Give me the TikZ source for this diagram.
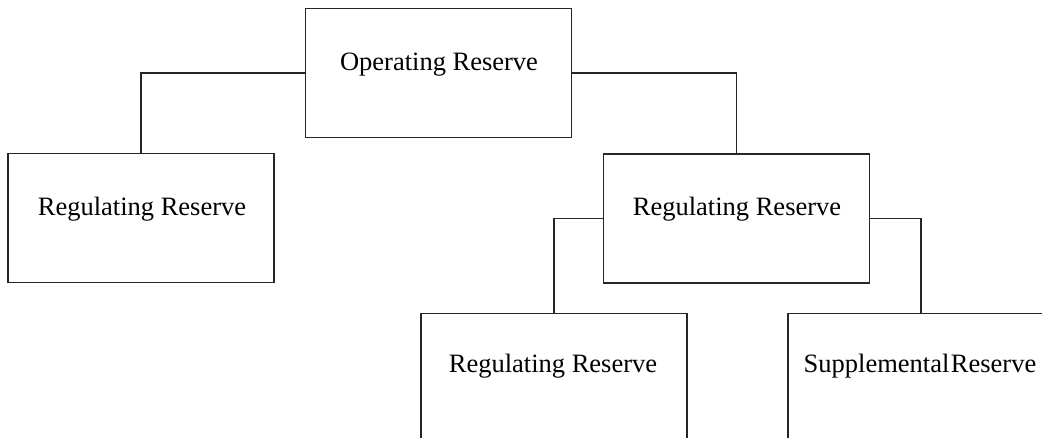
\documentclass[tikz,border=0pt]{standalone}
\usepackage{fontspec}
\setmainfont{Liberation Serif}
\begin{document}
\begin{tikzpicture}[x=1pt,y=-1pt,
  box/.style={draw=black!85, line width=1.2pt, rectangle, inner sep=0pt, minimum width=266pt, minimum height=129pt},
  lbl/.style={anchor=base, inner sep=0pt, font=\fontsize{26.5}{30}\selectfont},
  conn/.style={draw=black!85, line width=1.2pt}]
\useasboundingbox (0,0) rectangle (1042,438);
\clip (0,0) rectangle (1042,438);
\node[box] (top) at (438.5,73) {};
\node[box] (left) at (141,218) {};
\node[box] (mid) at (736.5,218.5) {};
\node[box] (bl) at (554,378) {};
\node[box] (br) at (921,378) {};
\node[lbl] (topt) at (439,71) {Operating Reserve};
\node[lbl] (leftt) at (142,216) {Regulating Reserve};
\node[lbl] (midt) at (737,216) {Regulating Reserve};
\node[lbl] (blt) at (553,373) {Regulating Reserve};
\node[lbl] (brt) at (920,373) {Supplemental\hspace{1.5pt}Reserve};
\draw[conn] (top.west) -| (left.north);
\draw[conn] (top.east) -| (mid.north);
\draw[conn] (mid.west) -| (bl.north);
\draw[conn] (mid.east) -| (br.north);
\end{tikzpicture}
\end{document}
